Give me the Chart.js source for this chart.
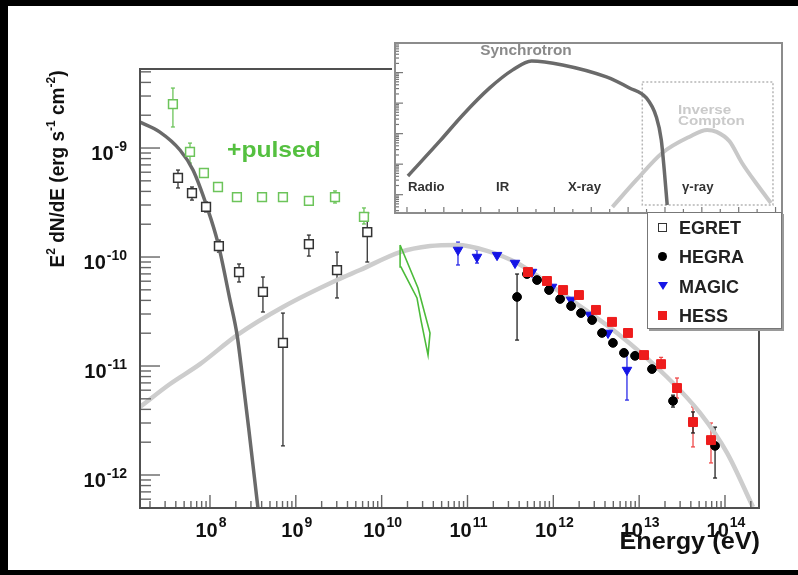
<!DOCTYPE html>
<html><head><meta charset="utf-8">
<script src="https://cdn.jsdelivr.net/npm/chart.js@4.4.1/dist/chart.umd.min.js"></script>
<style>
html,body{margin:0;padding:0;background:#000;width:798px;height:575px;overflow:hidden;}
#main{position:absolute;left:8px;top:6px;background:#fff;}
#inset{position:absolute;left:392px;top:42px;background:#fff;}
#legend{position:absolute;left:647px;top:212px;width:135px;height:117px;box-sizing:border-box;border:1.5px solid #777;box-shadow:2px 2px 0 #9a9a9a;background:#fff;font:bold 18px "Liberation Sans",Arial,sans-serif;color:#222;}
.row{position:absolute;left:31px;height:20px;line-height:20px;white-space:nowrap;}
.sym{position:absolute;}
</style>
</head><body>
<canvas id="main" width="790" height="564"></canvas>
<canvas id="inset" width="392" height="172"></canvas>
<div id="legend">
  <div class="sym" style="left:10px;top:10px;width:9px;height:9px;box-sizing:border-box;border:1.5px solid #333;background:#fff;"></div>
  <div class="row" style="top:5px;">EGRET</div>
  <div class="sym" style="left:10px;top:39px;width:9px;height:9px;border-radius:50%;background:#000;"></div>
  <div class="row" style="top:34px;">HEGRA</div>
  <div class="sym" style="left:10px;top:69px;width:0;height:0;border-left:5px solid transparent;border-right:5px solid transparent;border-top:8px solid #1515e6;"></div>
  <div class="row" style="top:64px;">MAGIC</div>
  <div class="sym" style="left:10px;top:98px;width:9px;height:9px;background:#ee1c1c;"></div>
  <div class="row" style="top:93px;">HESS</div>
</div>
<script>
// ---------------- DATA ----------------
// EGRET (open black squares)
const egretE  = [4.24e7, 6.17e7, 9.0e7, 1.27e8, 2.18e8, 4.14e8, 7.08e8, 1.42e9, 3.02e9, 6.8e9];
const egretF  = [5.31e-10, 3.86e-10, 2.88e-10, 1.26e-10, 7.28e-11, 4.78e-11, 1.63e-11, 1.31e-10, 7.60e-11, 1.69e-10];
const egretLo = [4.30e-10, 3.33e-10, 2.59e-10, 1.11e-10, 5.90e-11, 3.13e-11, 1.85e-12, 1.02e-10, 4.21e-11, 9.0e-11];
const egretHi = [6.28e-10, 4.39e-10, 3.20e-10, 1.43e-10, 8.63e-11, 6.56e-11, 3.06e-11, 1.59e-10, 1.11e-10, 2.54e-10];
// EGRET + pulsed (open green squares)
const pulsedE  = [3.7e7, 5.85e7, 8.5e7, 1.24e8, 2.06e8, 4.04e8, 7.08e8, 1.42e9, 2.86e9, 6.22e9];
const pulsedF  = [2.53e-9, 9.2e-10, 5.9e-10, 4.39e-10, 3.55e-10, 3.55e-10, 3.55e-10, 3.27e-10, 3.55e-10, 2.33e-10];
const pulsedLo = [1.56e-9, 7.28e-10, null, null, null, null, null, null, 3.13e-10, 2.01e-10];
const pulsedHi = [3.55e-9, 1.11e-9, null, null, null, null, null, null, 4.04e-10, 2.82e-10];
// MAGIC (blue down triangles)
const magicE  = [7.75e10, 1.29e11, 2.21e11, 3.58e11, 5.65e11, 9.66e11, 1.61e12, 2.67e12, 4.34e12, 7.21e12];
const magicF  = [1.16e-10, 1.00e-10, 1.04e-10, 8.81e-11, 7.28e-11, 5.31e-11, 4.04e-11, 2.94e-11, 2.01e-11, 9.18e-12];
const magicLo = [8.45e-11, 8.8e-11, null, null, null, null, null, null, null, 4.87e-12];
const magicHi = [1.37e-10, 1.16e-10, null, null, null, null, null, null, null, 1.32e-11];
// HEGRA (black circles)
const hegraE  = [3.78e11, 4.93e11, 6.46e11, 8.91e11, 1.20e12, 1.61e12, 2.10e12, 2.83e12, 3.69e12, 4.95e12, 6.65e12, 8.95e12, 1.41e13, 2.48e13, 4.24e13, 7.66e13];
const hegraF  = [4.30e-11, 6.98e-11, 6.15e-11, 4.98e-11, 4.12e-11, 3.55e-11, 3.06e-11, 2.64e-11, 2.01e-11, 1.63e-11, 1.32e-11, 1.24e-11, 9.38e-12, 4.78e-12, 3.06e-12, 1.85e-12];
const hegraLo = [1.73e-11, null, null, null, null, null, null, null, null, null, null, null, null, 4.2e-12, 2.43e-12, 9.38e-13];
const hegraHi = [6.98e-11, null, null, null, null, null, null, null, null, null, null, null, null, 5.4e-12, 3.79e-12, 2.75e-12];
// HESS (red squares)
const hessE  = [5.07e11, 8.43e11, 1.30e12, 1.99e12, 3.14e12, 4.83e12, 7.41e12, 1.14e13, 1.80e13, 2.76e13, 4.24e13, 6.87e13];
const hessF  = [7.28e-11, 6.03e-11, 4.98e-11, 4.48e-11, 3.27e-11, 2.54e-11, 2.01e-11, 1.26e-11, 1.04e-11, 6.28e-12, 3.06e-12, 2.09e-12];
const hessLo = [null, null, null, null, null, null, null, null, 9.0e-12, 5.08e-12, 1.81e-12, 1.29e-12];
const hessHi = [null, null, null, null, null, null, null, null, 1.2e-11, 7.76e-12, 4.21e-12, 3.00e-12];
// Pulsar model curve (dark grey)
const pulsarE = [1.53e7, 2.61e7, 4.47e7, 6.34e7, 9.23e7, 1.24e8, 1.71e8, 2.07e8, 2.30e8, 2.84e8, 3.62e8];
const pulsarF = [1.73e-9, 1.40e-9, 9.59e-10, 6.28e-10, 2.88e-10, 1.34e-10, 4.04e-11, 1.92e-11, 1.02e-11, 2.59e-12, 4.98e-13];
// Inverse Compton model curve (light grey)
const icE = [1.53e7, 3.42e7, 7.64e7, 2.07e8, 7.08e8, 3.02e9, 5.6e9, 1.64e10, 3.66e10, 7.55e10, 1.69e11, 3.78e11, 1.44e12, 5.52e12, 2.11e13, 5.12e13, 1.06e14, 2.12e14];
const icF = [4.21e-12, 6.84e-12, 1.04e-11, 1.92e-11, 3.48e-11, 6.15e-11, 7.6e-11, 1.11e-10, 1.26e-10, 1.29e-10, 1.14e-10, 8.81e-11, 4.30e-11, 2.01e-11, 7.93e-12, 3.71e-12, 1.59e-12, 5.08e-13];
// Green butterfly (closed outline)
const bflyE = [1.64e10, 2.65e10, 3.66e10, 3.47e10, 2.87e10, 2.58e10, 1.68e10, 1.64e10];
const bflyF = [1.29e-10, 5.2e-11, 2.01e-11, 1.26e-11, 2.64e-11, 4.21e-11, 8.09e-11, 1.29e-10];
// Axis tick labels
const xTickExps = ['8', '9', '10', '11', '12', '13', '14'];
const yTickExps = ['-9', '-10', '-11', '-12'];
// Inset (schematic SED): x = log frequency, y = log flux (arbitrary)
const synchX = [8.05, 9.79, 11.03, 12.49, 13.74, 14.76, 16.44, 18.82, 20.07, 20.99, 21.53, 21.80, 21.96, 22.12];
const synchY = [0.613, 1.761, 2.613, 3.498, 4.089, 4.384, 4.252, 3.859, 3.498, 3.170, 2.548, 1.793, 0.81, -0.338];
const icInsX = [19.15, 20.45, 21.85, 23.31, 24.29, 24.8, 25.5, 26.18, 27.10, 27.75];
const icInsY = [-0.403, 0.482, 1.367, 1.892, 2.121, 2.06, 1.75, 1.039, 0.252, -0.272];
const boxX = [20.77, 27.86, 27.86, 20.77, 20.77];
const boxY = [3.695, 3.695, -0.338, -0.338, 3.695];
const insetLabels = ['Radio', 'IR', 'X-ray', 'γ-ray'];

// ---------------- helpers ----------------
const FONT = '"Liberation Sans", Arial, Helvetica, sans-serif';
const pts = (xs, ys) => xs.map((x, i) => ({x: x, y: ys[i]}));

function stretchText(ctx, s, x, y, font, color, align, sx) {
  ctx.save();
  ctx.font = font;
  ctx.fillStyle = color;
  ctx.textBaseline = 'alphabetic';
  ctx.textAlign = 'left';
  const w = ctx.measureText(s).width * sx;
  const x0 = align === 'center' ? x - w / 2 : (align === 'right' ? x - w : x);
  ctx.translate(x0, y);
  ctx.scale(sx, 1);
  ctx.fillText(s, 0, 0);
  ctx.restore();
  return w;
}

function drawPow(ctx, base, exp, x, baseY, expY, align, fBase, fExp, color) {
  ctx.save();
  ctx.fillStyle = color;
  ctx.textAlign = 'left';
  ctx.textBaseline = 'alphabetic';
  ctx.font = fBase; const wb = ctx.measureText(base).width;
  ctx.font = fExp; const we = ctx.measureText(exp).width;
  const w = wb + we + 1;
  const x0 = align === 'center' ? x - w / 2 : (align === 'right' ? x - w : x);
  ctx.font = fBase; ctx.fillText(base, x0, baseY);
  ctx.font = fExp; ctx.fillText(exp, x0 + wb + 1, expY);
  ctx.restore();
}

function line(ctx, x1, y1, x2, y2) {
  ctx.beginPath(); ctx.moveTo(x1, y1); ctx.lineTo(x2, y2); ctx.stroke();
}

// ---------------- main chart plugin ----------------
const mainPlugin = {
  id: 'mainDecor',
  beforeDatasetsDraw(chart) {
    const ctx = chart.ctx, xs = chart.scales.x, ys = chart.scales.y;
    ctx.save();
    chart.data.datasets.forEach(ds => {
      if (!ds.errLo) return;
      ctx.strokeStyle = ds.errColor; ctx.lineWidth = 1.3;
      ds.data.forEach((p, i) => {
        const lo = ds.errLo[i], hi = ds.errHi[i];
        if (lo == null || hi == null) return;
        const px = xs.getPixelForValue(p.x);
        const y1 = ys.getPixelForValue(lo), y2 = ys.getPixelForValue(hi);
        line(ctx, px, y1, px, y2);
        line(ctx, px - 2, y1, px + 2, y1);
        line(ctx, px - 2, y2, px + 2, y2);
      });
    });
    ctx.restore();
  },
  afterDraw(chart) {
    const ctx = chart.ctx;
    const {left, top, right, bottom} = chart.chartArea;
    const xs = chart.scales.x, ys = chart.scales.y;
    ctx.save();
    // ticks (inward)
    ctx.strokeStyle = '#666'; ctx.lineWidth = 1.4;
    for (let e = -13; e <= -9; e++) {
      for (let m = 1; m <= 9; m++) {
        const v = m * Math.pow(10, e);
        if (v < ys.min || v > ys.max) continue;
        const py = ys.getPixelForValue(v);
        line(ctx, left, py, left + (m === 1 ? 20 : 11), py);
      }
    }
    for (let e = 7; e <= 14; e++) {
      for (let m = 1; m <= 9; m++) {
        const v = m * Math.pow(10, e);
        if (v < xs.min || v > xs.max) continue;
        const px = xs.getPixelForValue(v);
        line(ctx, px, bottom, px, bottom - (m === 1 ? 13 : 7));
      }
    }
    // frame
    ctx.strokeStyle = '#505050'; ctx.lineWidth = 2;
    ctx.strokeRect(left, top, right - left, bottom - top);
    // tick labels
    const fB = 'bold 20px ' + FONT, fE = 'bold 14px ' + FONT;
    yTickExps.forEach(ex => {
      const py = ys.getPixelForValue(Math.pow(10, Number(ex)));
      drawPow(ctx, '10', ex, left - 13, py + 11.5, py + 2.5, 'right', fB, fE, '#111');
    });
    xTickExps.forEach(ex => {
      const px = xs.getPixelForValue(Math.pow(10, Number(ex)));
      drawPow(ctx, '10', ex, px + 1, bottom + 29, bottom + 19, 'center', fB, fE, '#111');
    });
    // x title
    stretchText(ctx, 'Energy (eV)', 752, 543, 'bold 23px ' + FONT, '#111', 'right', 1.1);
    // +pulsed
    stretchText(ctx, '+pulsed', 219, 151, 'bold 22px ' + FONT, '#55c040', 'left', 1.12);
    // y title (rotated)
    ctx.save();
    ctx.translate(56, 163);
    ctx.rotate(-Math.PI / 2);
    ctx.scale(1, 1.1);
    ctx.fillStyle = '#111';
    ctx.textAlign = 'left'; ctx.textBaseline = 'alphabetic';
    const big = 'bold 19px ' + FONT, small = 'bold 12px ' + FONT;
    const parts = [['E', big, 0], ['2', small, -8], [' dN/dE (erg s', big, 0], ['-1', small, -8], [' cm', big, 0], ['-2', small, -8], [')', big, 0]];
    let total = 0;
    parts.forEach(p => { ctx.font = p[1]; total += ctx.measureText(p[0]).width; });
    let cx = -total / 2;
    parts.forEach(p => { ctx.font = p[1]; ctx.fillText(p[0], cx, p[2]); cx += ctx.measureText(p[0]).width; });
    ctx.restore();
    ctx.restore();
  }
};

new Chart(document.getElementById('main'), {
  type: 'scatter',
  data: {
    datasets: [
      {label: 'HESS', data: pts(hessE, hessF), errLo: hessLo, errHi: hessHi, errColor: '#f04a4a',
       pointStyle: 'rect', pointRadius: 6.3, backgroundColor: '#ee1c1c', borderColor: '#ee1c1c', borderWidth: 1, order: 1},
      {label: 'HEGRA', data: pts(hegraE, hegraF), errLo: hegraLo, errHi: hegraHi, errColor: '#222',
       pointStyle: 'circle', pointRadius: 4.4, backgroundColor: '#000', borderColor: '#000', borderWidth: 1, order: 2},
      {label: 'MAGIC', data: pts(magicE, magicF), errLo: magicLo, errHi: magicHi, errColor: '#2a2ae8',
       pointStyle: 'triangle', rotation: 180, pointRadius: 5.5, backgroundColor: '#1515e6', borderColor: '#1515e6', borderWidth: 1, order: 3},
      {label: 'EGRET', data: pts(egretE, egretF), errLo: egretLo, errHi: egretHi, errColor: '#333',
       pointStyle: 'rect', pointRadius: 6.2, backgroundColor: '#fff', borderColor: '#333', borderWidth: 1.5, order: 4},
      {label: 'EGRET pulsed', data: pts(pulsedE, pulsedF), errLo: pulsedLo, errHi: pulsedHi, errColor: '#6cc45a',
       pointStyle: 'rect', pointRadius: 6.2, backgroundColor: '#fff', borderColor: '#6cc45a', borderWidth: 1.5, order: 5},
      {label: 'butterfly', data: pts(bflyE, bflyF), showLine: true, pointRadius: 0, borderColor: '#4cbb3a', borderWidth: 1.6, tension: 0, order: 6},
      {label: 'pulsar model', data: pts(pulsarE, pulsarF), showLine: true, pointRadius: 0, borderColor: '#6a6a6a', borderWidth: 3.5, cubicInterpolationMode: 'monotone', order: 7},
      {label: 'IC model', data: pts(icE, icF), showLine: true, pointRadius: 0, borderColor: '#cdcdcd', borderWidth: 4.5, cubicInterpolationMode: 'monotone', order: 8}
    ]
  },
  options: {
    responsive: false,
    animation: false,
    events: [],
    layout: {padding: {left: 132, top: 63, right: 39, bottom: 62}},
    plugins: {legend: {display: false}, tooltip: {enabled: false}},
    scales: {
      x: {type: 'logarithmic', min: 1.53e7, max: 2.49e14, display: false, bounds: 'data'},
      y: {type: 'logarithmic', min: 4.98e-13, max: 5.31e-9, display: false, bounds: 'data'}
    }
  },
  plugins: [mainPlugin]
});

// ---------------- inset chart ----------------
const insetPlugin = {
  id: 'insetDecor',
  beforeDatasetsDraw(chart) {
    const ctx = chart.ctx;
    ctx.save();
    stretchText(ctx, 'Synchrotron', 134, 13, 'bold 14px ' + FONT, '#8a8a8a', 'center', 1.1);
    stretchText(ctx, 'Inverse', 286, 72, 'bold 13px ' + FONT, '#cacaca', 'left', 1.17);
    stretchText(ctx, 'Compton', 286, 82.5, 'bold 13px ' + FONT, '#cacaca', 'left', 1.17);
    const lx = [16, 104, 176, 290];
    insetLabels.forEach((s, i) => stretchText(ctx, s, lx[i], 148.5, 'bold 12px ' + FONT, '#333', 'left', 1.1));
    ctx.restore();
  },
  afterDraw(chart) {
    const ctx = chart.ctx;
    const {left, top, right, bottom} = chart.chartArea;
    const xs = chart.scales.x, ys = chart.scales.y;
    ctx.save();
    ctx.strokeStyle = '#777'; ctx.lineWidth = 1.2;
    for (let k = -1; k <= 5; k++) {
      for (let m = 1; m <= 9; m++) {
        const v = k + Math.log10(m);
        if (v < ys.min || v > ys.max) continue;
        const py = ys.getPixelForValue(v);
        line(ctx, left, py, left + (m === 1 ? 8 : 4), py);
      }
    }
    for (let i = 8; i <= 28; i++) {
      const px = xs.getPixelForValue(i);
      line(ctx, px, bottom, px, bottom - (i % 2 === 0 ? 6 : 4));
    }
    ctx.strokeStyle = '#8c8c8c'; ctx.lineWidth = 2;
    ctx.strokeRect(left, top, right - left, bottom - top);
    ctx.restore();
  }
};

new Chart(document.getElementById('inset'), {
  type: 'scatter',
  data: {
    datasets: [
      {label: 'Synchrotron', data: pts(synchX, synchY), showLine: true, pointRadius: 0, borderColor: '#6a6a6a', borderWidth: 3.5, cubicInterpolationMode: 'monotone', order: 1},
      {label: 'Inverse Compton', data: pts(icInsX, icInsY), showLine: true, pointRadius: 0, borderColor: '#c8c8c8', borderWidth: 4, cubicInterpolationMode: 'monotone', order: 2},
      {label: 'box', data: pts(boxX, boxY), showLine: true, pointRadius: 0, borderColor: '#b5b5b5', borderWidth: 1.5, borderDash: [2, 2], tension: 0, order: 3}
    ]
  },
  options: {
    responsive: false,
    animation: false,
    events: [],
    layout: {padding: {left: 3, top: 1, right: 2, bottom: 1}},
    plugins: {legend: {display: false}, tooltip: {enabled: false}},
    scales: {
      x: {type: 'linear', min: 7.35, max: 28.35, display: false},
      y: {type: 'linear', min: -0.6, max: 4.97, display: false}
    }
  },
  plugins: [insetPlugin]
});
</script>
</body></html>
